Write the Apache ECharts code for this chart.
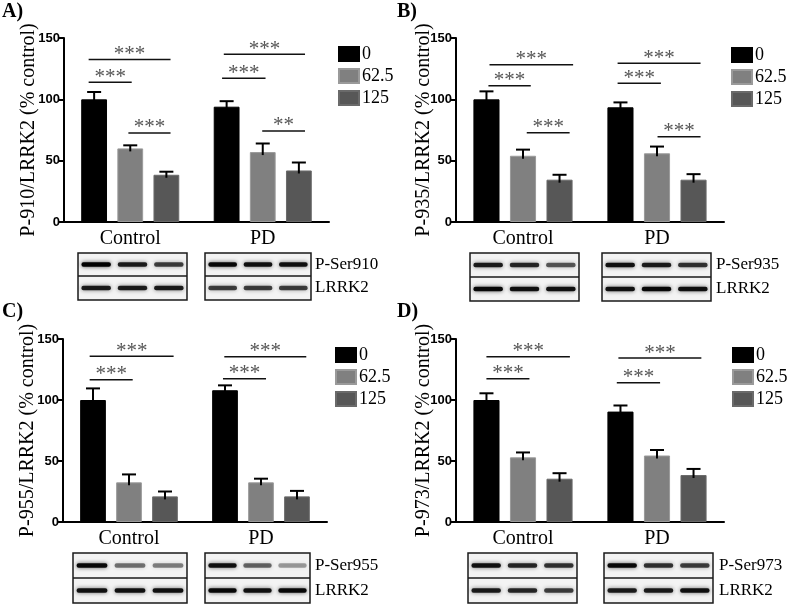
<!DOCTYPE html>
<html><head><meta charset="utf-8">
<script src="https://cdn.jsdelivr.net/npm/echarts@6/dist/echarts.min.js"></script>
<style>html,body{margin:0;padding:0;background:#fff}#c{width:787px;height:605px}</style>
</head><body><div id="c"></div>
<script>
// ---------- data ----------
const categories = ['Control', 'PD'];
const doses = ['0', '62.5', '125'];
const yTicks = [0, 50, 100, 150];

// Panel A  (P-910)
const A_mean0 = [100, 94], A_mean62 = [60, 57], A_mean125 = [38.5, 42];
const A_sem0 = [6, 4.5], A_sem62 = [2.5, 7], A_sem125 = [2.5, 6.5];
// [category, from (band units), to (band units), y value, number of stars]
const A_brackets = [[0, -0.314, 0.304, 132.5, 3], [0, -0.314, 0.011, 113.9, 3], [0, -0.014, 0.304, 72.6, 3],
                    [1, -0.294, 0.319, 136.7, 3], [1, -0.307, 0.021, 117.1, 3], [1, -0.004, 0.319, 74.2, 2]];

// Panel B  (P-935)
const B_mean0 = [100, 93.5], B_mean62 = [54, 56], B_mean125 = [34.5, 34.5];
const B_sem0 = [6.5, 4], B_sem62 = [5, 5.5], B_sem125 = [4, 4.5];
const B_brackets = [[0, -0.25, 0.374, 128.2, 3], [0, -0.258, 0.058, 111, 3], [0, 0.028, 0.348, 72.8, 3],
                    [1, -0.294, 0.325, 129.5, 3], [1, -0.294, 0.029, 113.2, 3], [1, 0.004, 0.325, 69.5, 3]];

// Panel C  (P-955)
const C_mean0 = [100, 108], C_mean62 = [32.5, 32.5], C_mean125 = [21, 21];
const C_sem0 = [9.5, 4], C_sem62 = [6.5, 3], C_sem125 = [4, 4.5];
const C_brackets = [[0, -0.298, 0.338, 135.8, 3], [0, -0.298, 0.028, 116.7, 3],
                    [1, -0.278, 0.343, 135.5, 3], [1, -0.288, 0.038, 117.5, 3]];

// Panel D  (P-973)
const D_mean0 = [100, 90.5], D_mean62 = [53, 54.5], D_mean125 = [35.5, 38.5];
const D_sem0 = [5.5, 5], D_sem62 = [4, 4.5], D_sem125 = [4.5, 5];
const D_brackets = [[0, -0.273, 0.35, 135.5, 3], [0, -0.273, 0.048, 117.5, 3],
                    [1, -0.288, 0.331, 134.4, 3], [1, -0.3, 0.023, 114.2, 3]];

// blot band intensities (lanes: 0, 62.5, 125)
const A_blotP = [[1.0, 0.85, 0.7], [0.95, 0.9, 0.9]], A_blotL = [[0.85, 0.85, 0.85], [0.7, 0.7, 0.7]];
const B_blotP = [[0.85, 0.8, 0.6], [0.9, 0.85, 0.75]], B_blotL = [[0.95, 0.9, 0.9], [0.9, 0.95, 0.9]];
const C_blotP = [[0.95, 0.5, 0.45], [0.9, 0.55, 0.35]], C_blotL = [[0.9, 0.9, 0.9], [0.95, 0.9, 0.95]];
const D_blotP = [[0.9, 0.8, 0.75], [0.95, 0.75, 0.7]], D_blotL = [[0.85, 0.8, 0.7], [0.85, 0.85, 0.9]];

// ---------- layout / style ----------
const SERIF = 'Liberation Serif', SANS = 'Liberation Sans';
const doseColors = ['#000000', '#808080', '#575757'];
const doseBorders = ['#000000', '#9a9a9a', '#6a6a6a'];
const CAT_GAP = 0.26, BAR_GAP = 0.4;

const panels = [
  { label: 'A)', lx: 2, ly: 2, grid: { left: 64, top: 38, width: 265, height: 184 }, yName: 'P-910/LRRK2 (% control)', gap: 25,
    legend: { left: 338, top: 45 }, means: [A_mean0, A_mean62, A_mean125], sems: [A_sem0, A_sem62, A_sem125], brackets: A_brackets,
    blot: { c: [78, 187], p: [205, 311], top: 253, mid: 276, bot: 300, lx: 315, P: A_blotP, L: A_blotL, pname: 'P-Ser910' } },
  { label: 'B)', lx: 397, ly: 2, grid: { left: 456, top: 38, width: 268, height: 184 }, yName: 'P-935/LRRK2 (% control)', gap: 22,
    legend: { left: 731, top: 46 }, means: [B_mean0, B_mean62, B_mean125], sems: [B_sem0, B_sem62, B_sem125], brackets: B_brackets,
    blot: { c: [470, 579], p: [602, 711], top: 253, mid: 277, bot: 301, lx: 716, P: B_blotP, L: B_blotL, pname: 'P-Ser935' } },
  { label: 'C)', lx: 2, ly: 302, grid: { left: 63, top: 339, width: 264, height: 183 }, yName: 'P-955/LRRK2 (% control)', gap: 25,
    legend: { left: 335, top: 346 }, means: [C_mean0, C_mean62, C_mean125], sems: [C_sem0, C_sem62, C_sem125], brackets: C_brackets,
    blot: { c: [73, 187], p: [205, 310], top: 553, mid: 578, bot: 603, lx: 315, P: C_blotP, L: C_blotL, pname: 'P-Ser955' } },
  { label: 'D)', lx: 397, ly: 302, grid: { left: 456, top: 339, width: 268, height: 183 }, yName: 'P-973/LRRK2 (% control)', gap: 22,
    legend: { left: 732, top: 346 }, means: [D_mean0, D_mean62, D_mean125], sems: [D_sem0, D_sem62, D_sem125], brackets: D_brackets,
    blot: { c: [468, 577], p: [604, 713], top: 553, mid: 578, bot: 603, lx: 719, P: D_blotP, L: D_blotL, pname: 'P-Ser973' } }
];

function barLayout(api) {
  const bw = api.size([1, 0])[0];
  const barW = bw * (1 - CAT_GAP) / (3 + 2 * BAR_GAP);
  return { bw, barW };
}

function errorRender(params, api) {
  const cat = api.value(0), v = api.value(1), e = api.value(2), s = api.value(3);
  const base = api.coord([cat, v]);
  const top = api.coord([cat, v + e]);
  const { barW } = barLayout(api);
  const cx = base[0] + (s - 1) * barW * (1 + BAR_GAP);
  const half = 7;
  return { type: 'group', children: [
    { type: 'line', shape: { x1: cx, y1: base[1] + 3, x2: cx, y2: top[1] }, style: { stroke: '#000', lineWidth: 2 } },
    { type: 'line', shape: { x1: cx - half, y1: top[1], x2: cx + half, y2: top[1] }, style: { stroke: '#000', lineWidth: 2 } }
  ] };
}

function bracketRender(params, api) {
  const cat = api.value(0), u1 = api.value(1), u2 = api.value(2), y = api.value(3), n = api.value(4);
  const c = api.coord([cat, y]);
  const { bw } = barLayout(api);
  const x1 = c[0] + u1 * bw, x2 = c[0] + u2 * bw;
  const stars = Array(n).fill('*').join('');
  return { type: 'group', children: [
    { type: 'line', shape: { x1, y1: c[1], x2, y2: c[1] }, style: { stroke: '#111', lineWidth: 1.5 } },
    { type: 'text', x: (x1 + x2) / 2, y: c[1] - 5, style: { text: stars, fill: '#555', font: '21px ' + SERIF, align: 'center', verticalAlign: 'middle' } }
  ] };
}

const grids = [], xAxes = [], yAxes = [], legends = [], series = [], graphics = [];

panels.forEach((p, i) => {
  grids.push(p.grid);
  xAxes.push({
    type: 'category', gridIndex: i, data: categories,
    axisLine: { lineStyle: { color: '#000', width: 2 } },
    axisTick: { alignWithLabel: true, length: 7, lineStyle: { color: '#000', width: 2 } },
    axisLabel: { color: '#000', fontFamily: SERIF, fontSize: 20, margin: 7 }
  });
  yAxes.push({
    type: 'value', gridIndex: i, min: yTicks[0], max: yTicks[yTicks.length - 1], interval: yTicks[1] - yTicks[0],
    name: p.yName, nameLocation: 'middle', nameGap: p.gap, nameMoveOverlap: false,
    nameTextStyle: { color: '#000', fontFamily: SERIF, fontSize: 20 },
    axisLine: { show: true, lineStyle: { color: '#000', width: 2 } },
    axisTick: { show: true, length: 5, lineStyle: { color: '#000', width: 2 } },
    axisLabel: { color: '#000', fontFamily: SANS, fontWeight: 'bold', fontSize: 13, margin: 4 },
    splitLine: { show: false }
  });
  legends.push({
    orient: 'vertical', left: p.legend.left, top: p.legend.top, data: doses, padding: 0,
    icon: 'rect', itemWidth: 20, itemHeight: 14, itemGap: 4, selectedMode: false,
    textStyle: { color: '#000', fontFamily: SERIF, fontSize: 18, lineHeight: 18, padding: [0, 0, 0, -2] }
  });
  doses.forEach((d, k) => {
    series.push({
      type: 'bar', name: d, xAxisIndex: i, yAxisIndex: i, data: p.means[k],
      barCategoryGap: (CAT_GAP * 100) + '%', barGap: (BAR_GAP * 100) + '%',
      itemStyle: { color: doseColors[k], borderColor: doseBorders[k], borderWidth: 1 },
      emphasis: { disabled: true }, z: 2
    });
  });
  const errData = [];
  doses.forEach((d, k) => categories.forEach((c, ci) => errData.push([ci, p.means[k][ci], p.sems[k][ci], k])));
  series.push({ type: 'custom', name: 'err' + i, xAxisIndex: i, yAxisIndex: i, data: errData, renderItem: errorRender, z: 3, clip: false, silent: true });
  series.push({ type: 'custom', name: 'sig' + i, xAxisIndex: i, yAxisIndex: i, data: p.brackets, renderItem: bracketRender, z: 4, clip: false, silent: true });

  // panel letter
  graphics.push({ type: 'text', left: p.lx, top: p.ly, style: { text: p.label, font: 'bold 20px ' + SERIF, fill: '#000' } });

  // western blot images
  const b = p.blot;
  const rows = [[b.top, b.mid, b.P], [b.mid, b.bot, b.L]];
  [b.c, b.p].forEach((xr, gi) => {
    const x1 = xr[0], x2 = xr[1], w = x2 - x1;
    const children = [
      { type: 'rect', shape: { x: x1, y: b.top, width: w, height: b.bot - b.top }, style: { fill: '#f3f3f3', stroke: 'none' } }
    ];
    rows.forEach(([t, bt, inten]) => {
      const yc = (t + bt) / 2;
      inten[gi].forEach((a, k) => {
        const cx = x1 + w * (2 * k + 1) / 6;
        const bwid = w * 0.27;
        children.push({ type: 'rect', shape: { x: cx - bwid / 2, y: yc - 2.2, width: bwid, height: 4.4, r: 2 },
          style: { fill: 'rgba(0,0,0,' + a + ')', shadowBlur: 4, shadowColor: 'rgba(0,0,0,' + (a * 0.7) + ')' } });
      });
    });
    children.push({ type: 'rect', shape: { x: x1, y: b.top, width: w, height: b.bot - b.top }, style: { fill: 'none', stroke: '#1a1a1a', lineWidth: 1.5 } });
    children.push({ type: 'line', shape: { x1: x1, y1: b.mid, x2: x2, y2: b.mid }, style: { stroke: '#1a1a1a', lineWidth: 1.5 } });
    graphics.push({ type: 'group', silent: true, children });
  });
  graphics.push({ type: 'text', x: b.lx, y: (b.top + b.mid) / 2, style: { text: b.pname, font: '17px ' + SERIF, fill: '#000', verticalAlign: 'middle' } });
  graphics.push({ type: 'text', x: b.lx, y: (b.mid + b.bot) / 2, style: { text: 'LRRK2', font: '17px ' + SERIF, fill: '#000', verticalAlign: 'middle' } });
});

const chart = echarts.init(document.getElementById('c'), null, { renderer: 'canvas' });
chart.setOption({
  animation: false,
  backgroundColor: '#ffffff',
  grid: grids, xAxis: xAxes, yAxis: yAxes, legend: legends, series: series,
  graphic: { elements: graphics }
});
</script>
</body></html>
